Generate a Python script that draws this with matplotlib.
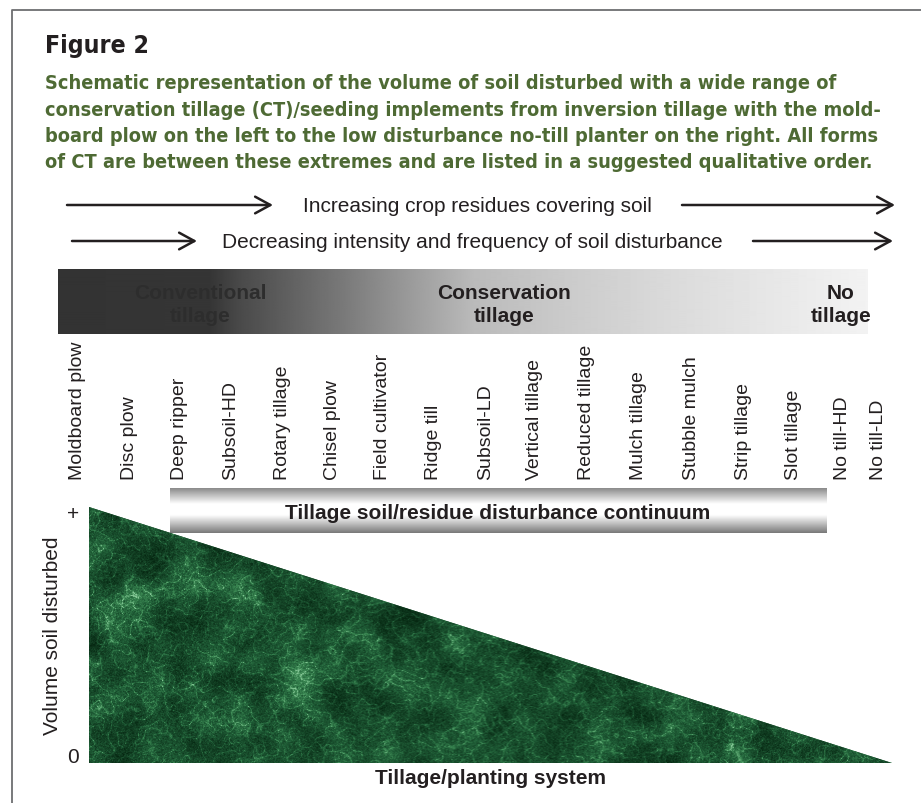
import numpy as np
import matplotlib
matplotlib.use("Agg")
import matplotlib.pyplot as plt
from matplotlib import font_manager
from matplotlib.colors import LinearSegmentedColormap

# ---- data ----
implements = ["Moldboard plow", "Disc plow", "Deep ripper", "Subsoil-HD", "Rotary tillage",
              "Chisel plow", "Field cultivator", "Ridge till", "Subsoil-LD", "Vertical tillage",
              "Reduced tillage", "Mulch tillage", "Stubble mulch", "Strip tillage", "Slot tillage",
              "No till-HD", "No till-LD"]
tillage_classes = ["Conventional\ntillage", "Conservation\ntillage", "No\ntillage"]
trend_texts = ["Increasing crop residues covering soil",
               "Decreasing intensity and frequency of soil disturbance"]
system_pos = [0, 1]      # left (moldboard plow) -> right (no-till planter)
volume = [1, 0]          # relative volume of soil disturbed
vol_labels = ["+", "0"]

title = "Figure 2"
caption = ["Schematic representation of the volume of soil disturbed with a wide range of",
           "conservation tillage (CT)/seeding implements from inversion tillage with the mold-",
           "board plow on the left to the low disturbance no-till planter on the right. All forms",
           "of CT are between these extremes and are listed in a suggested qualitative order."]

# ---- layout (pixels) ----
label_x = [77, 129, 179, 231, 282, 332, 382, 433, 486, 534, 586, 638, 691, 743, 793, 842, 878]
class_x = [200, 504, 841]
class_col = ["#2d2d2d", "#231f20", "#231f20"]

plt.rcParams["font.family"] = ["Liberation Sans", "DejaVu Sans"]
names = {f.name for f in font_manager.fontManager.ttflist}
cap_font = "Liberation Sans Narrow" if "Liberation Sans Narrow" in names else "DejaVu Sans"
ink = "#231f20"
green_txt = "#4e6a34"

fig = plt.figure(figsize=(9.21, 8.04), dpi=100)
ax = fig.add_axes([0, 0, 1, 1])
ax.set_xlim(0, 921); ax.set_ylim(804, 0); ax.axis("off")

# frame
ax.plot([12, 12, 921], [804, 11, 11], color="#6d6e71", lw=1.3)

# title + caption
t_title = ax.text(45, 53, title, fontsize=20, fontweight="bold", color=ink,
                  family=[cap_font, "DejaVu Sans"], fontstretch="condensed", va="baseline")
cap_txts = []
for i, line in enumerate(caption):
    cap_txts.append(ax.text(45, 89 + i * 26.5, line, fontsize=15, fontweight="bold", color=green_txt,
                            family=[cap_font, "DejaVu Sans"], fontstretch="condensed", va="baseline"))
fig.canvas.draw()
r = fig.canvas.get_renderer()
w = t_title.get_window_extent(r).width
t_title.set_fontsize(t_title.get_fontsize() * 104 / w)
w = cap_txts[0].get_window_extent(r).width
fs = cap_txts[0].get_fontsize() * 795 / w
for t in cap_txts:
    t.set_fontsize(fs)

# trend arrows
aprops = dict(arrowstyle="->,head_length=0.55,head_width=0.3", lw=1.8, color=ink, mutation_scale=20,
              shrinkA=0, shrinkB=0)
ax.annotate("", xy=(273, 206), xytext=(67, 206), arrowprops=aprops)
ax.annotate("", xy=(895, 206), xytext=(682, 206), arrowprops=aprops)
ax.text(303, 206, trend_texts[0], fontsize=15, color=ink, va="center", ha="left")
ax.annotate("", xy=(197, 242), xytext=(72, 242), arrowprops=aprops)
ax.annotate("", xy=(893, 242), xytext=(753, 242), arrowprops=aprops)
ax.text(222, 242, trend_texts[1], fontsize=15, color=ink, va="center", ha="left")

# grey tillage class band
gx = np.arange(58, 868)
stops_x = [58, 210, 240, 340, 407, 473, 560, 660, 760, 867]
stops_g = [0.20, 0.21, 0.29, 0.47, 0.60, 0.73, 0.79, 0.85, 0.90, 0.95]
band = np.interp(gx, stops_x, stops_g)[None, :]
ax.imshow(band, cmap="gray", vmin=0, vmax=1, extent=(58, 867, 335, 271), aspect="auto",
          interpolation="bilinear", zorder=1)
for cx, lab, c in zip(class_x, tillage_classes, class_col):
    ax.text(cx, 305, lab, fontsize=15, fontweight="bold", color=c, ha="center", va="center",
            linespacing=1.3, zorder=2)

# implement labels
for x, lab in zip(label_x, implements):
    ax.text(x, 480, lab, rotation=90, fontsize=14, color=ink, ha="center", va="bottom")

# continuum bar (metallic)
vy = np.linspace(0, 1, 60)
metal = np.interp(vy, [0, 0.35, 0.6, 1], [0.55, 1.0, 1.0, 0.48])[:, None]
ax.imshow(metal, cmap="gray", vmin=0, vmax=1, extent=(170, 826, 534, 489), aspect="auto",
          interpolation="bilinear", zorder=1)
ax.text(498, 514, "Tillage soil/residue disturbance continuum", fontsize=15, fontweight="bold",
        color=ink, ha="center", va="center", zorder=2)

# triangle: volume of soil disturbed
tax = fig.add_axes([89 / 921, (804 - 764) / 804, (892 - 89) / 921, (764 - 508) / 804])
tax.set_xlim(0, 1); tax.set_ylim(0, 1)
tax.patch.set_alpha(0)
for s in tax.spines.values():
    s.set_visible(False)
tax.set_xticks([]); tax.set_yticks([])
tri = tax.fill([system_pos[0], system_pos[0], system_pos[1]], [min(volume), volume[0], volume[1]],
               facecolor="#1e5a32", edgecolor="none")[0]

# marble texture
rng = np.random.default_rng(7)
H, W = 256, 803
fy = np.fft.fftfreq(H)[:, None]; fx = np.fft.fftfreq(W)[None, :]
k = np.sqrt(fx ** 2 + fy ** 2)
def smooth_noise(scale):
    f = np.fft.fft2(rng.standard_normal((H, W))) * np.exp(-(k * scale) ** 2)
    o = np.real(np.fft.ifft2(f))
    return (o - o.mean()) / o.std()
n1 = smooth_noise(40); n2 = smooth_noise(14); n4 = smooth_noise(7); n3 = smooth_noise(1.5)
veins = np.exp(-np.abs(n2) * 5) * 0.75 + np.exp(-np.abs(n4) * 7) * 0.45
tex = np.clip(0.35 + 0.11 * n1 + 0.40 * veins + 0.07 * n3, 0, 1)
marble = LinearSegmentedColormap.from_list("marble", ["#062812", "#123f23", "#1f5c36", "#3a8752", "#86c897"])
im = tax.imshow(tex, cmap=marble, vmin=0, vmax=1, extent=(0, 1, 0, 1), aspect="auto", zorder=2)
im.set_clip_path(tri)

offs = [-7, 6]
for v, lab, o in zip(volume, vol_labels, offs):
    tax.annotate(lab, xy=(system_pos[0], v), xytext=(-16, o), textcoords="offset pixels",
                 ha="center", va="center", fontsize=15, color=ink, annotation_clip=False)
tax.set_ylabel("Volume soil disturbed", fontsize=15, color=ink)
tax.yaxis.set_label_coords(-27 / 803, 0.5)
tax.set_xlabel("Tillage/planting system", fontsize=15, fontweight="bold", color=ink, va="center")
tax.xaxis.set_label_coords(0.5, -15 / 256)

fig.savefig("out.png", dpi=100)
